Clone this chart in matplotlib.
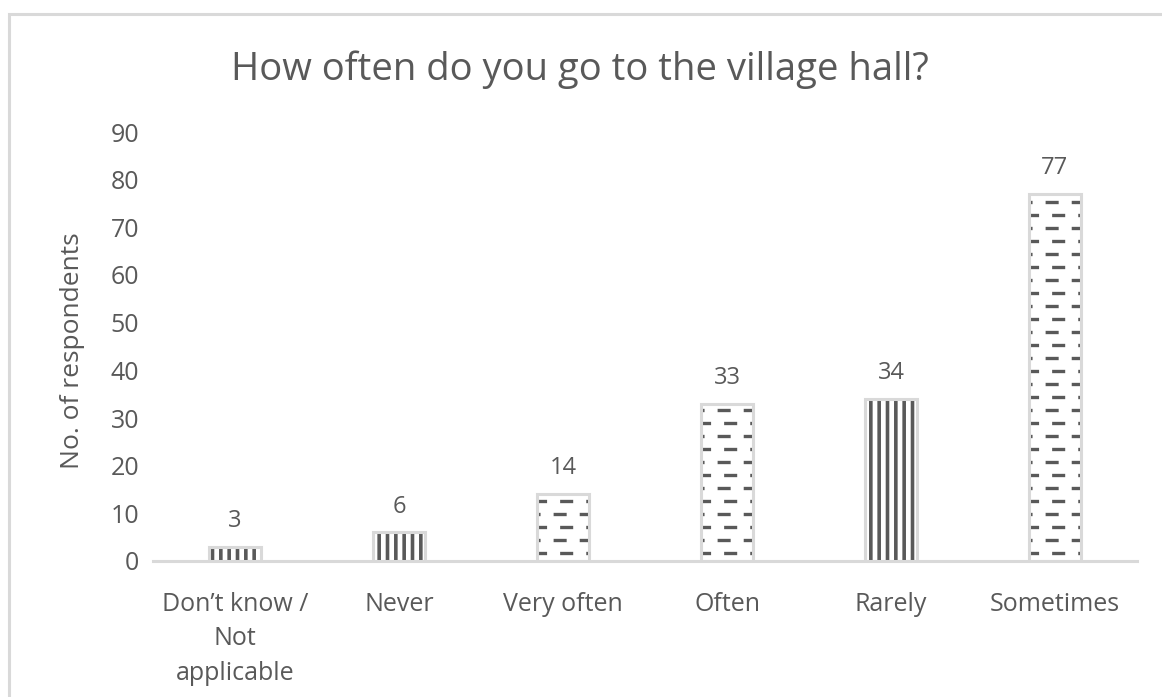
import matplotlib
matplotlib.use("Agg")
import matplotlib.pyplot as plt
from matplotlib.patches import Rectangle

categories = ["Don\u2019t know /\nNot\napplicable", "Never", "Very often", "Often", "Rarely", "Sometimes"]
counts = [3, 6, 14, 33, 34, 77]
patterns = ["stripes", "stripes", "dashes", "dashes", "stripes", "dashes"]

text_grey = "#595959"
line_grey = "#d9d9d9"
fill_grey = "#595959"

plt.rcParams["font.family"] = ["Open Sans", "DejaVu Sans"]
plt.rcParams["hatch.linewidth"] = 2.6
plt.rcParams["lines.scale_dashes"] = False

fig = plt.figure(figsize=(11.62, 6.97), dpi=100)
ax = fig.add_axes([153 / 1162, 1 - 561 / 697, (1137 - 153) / 1162, (561 - 132) / 697])

# chart border, runs off the right and bottom edges
fig.patches.append(Rectangle((9 / 1162, -0.05), 1.1, 0.98 + 0.05, transform=fig.transFigure,
                             fill=False, edgecolor=line_grey, linewidth=2.2))

x = list(range(len(categories)))
bar_w = 0.32

# white body, then pattern, then light outline on top
ax.bar(x, counts, width=bar_w, color="white", linewidth=0, zorder=2)
stripe_x = [i for i, k in zip(x, patterns) if k == "stripes"]
stripe_v = [v for v, k in zip(counts, patterns) if k == "stripes"]
ax.bar(stripe_x, stripe_v, width=bar_w, color="none", edgecolor=fill_grey,
       hatch="||", linewidth=0, zorder=3)
bars = ax.bar(x, counts, width=bar_w, color="none", edgecolor=line_grey, linewidth=2.2, zorder=4)

row_step = 2.73  # about 13 px between dash rows
for bar, kind in zip(bars, patterns):
    if kind != "dashes":
        continue
    x0, w, h = bar.get_x(), bar.get_width(), bar.get_height()
    y = 1.7
    i = 0
    while y < h:
        off = 2.5 if i % 2 == 0 else 7.2
        ln, = ax.plot([x0, x0 + w], [y, y], color=fill_grey, linewidth=2.4,
                      linestyle=(off, (9.4, 9.4)),
                      solid_capstyle="butt", dash_capstyle="butt", zorder=3)
        ln.set_clip_path(bar)
        y += row_step
        i += 1

for bar, v in zip(bars, counts):
    ax.annotate(str(v), (bar.get_x() + bar.get_width() / 2, v), xytext=(0, 10),
                textcoords="offset points", ha="center", va="bottom",
                fontsize=17, color=text_grey)

ax.set_xlim(-0.5, len(categories) - 0.5)
ax.set_ylim(0, 90)
ax.set_yticks(range(0, 91, 10))
ax.set_xticks(x)
ax.set_xticklabels(categories, linespacing=1.5)
ax.tick_params(axis="both", length=0, labelsize=18, labelcolor=text_grey)
ax.tick_params(axis="x", pad=22)
ax.tick_params(axis="y", pad=10)
for side in ["top", "right", "left"]:
    ax.spines[side].set_visible(False)
ax.spines["bottom"].set_color(line_grey)
ax.spines["bottom"].set_linewidth(2.2)

ax.set_ylabel("No. of respondents", fontsize=19, color=text_grey)
ax.yaxis.set_label_coords(-0.069, 0.49)
fig.text(580 / 1162, 1 - 70 / 697, "How often do you go to the village hall?",
         ha="center", va="center", fontsize=27.5, color=text_grey)

fig.savefig("out.png", dpi=100)
